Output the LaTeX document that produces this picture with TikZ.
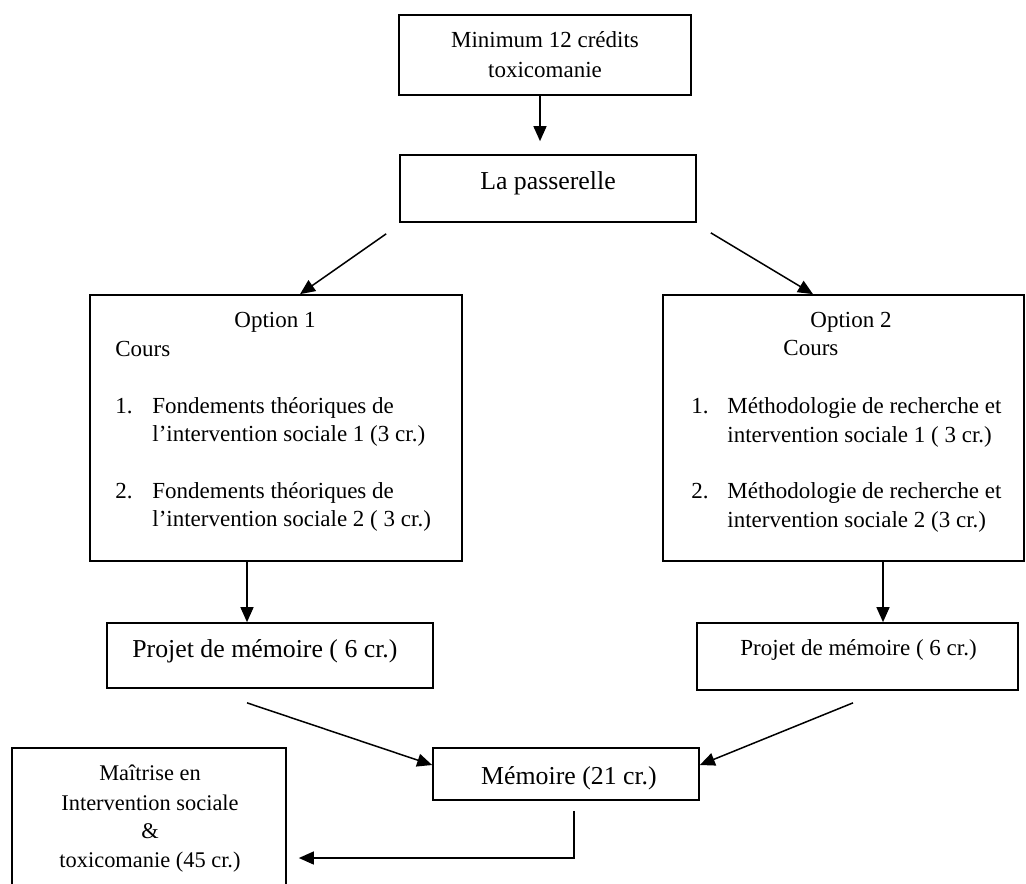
\documentclass[tikz,border=0pt]{standalone}
\usepackage{fontspec}
\setmainfont{Liberation Serif}
\usetikzlibrary{arrows.meta,calc}

\tikzset{
  box/.style={draw=black, line width=0.85pt, inner sep=0pt},
  txt/.style={inner sep=0pt, anchor=base, font=\fontsize{11.5}{13}\selectfont},
  txtl/.style={txt, anchor=base west},
  big/.style={font=\fontsize{12.9}{14}\selectfont},
  small/.style={font=\fontsize{11.2}{13}\selectfont},
  arr/.style={draw=black, line width=0.75pt, -{Triangle[length=7.5pt,width=6.5pt]}}
}

\begin{document}
\begin{tikzpicture}[x=0.5pt,y=-0.5pt]
  % page frame
  \clip (0,0) rectangle (1026,883);
  \fill[white] (0,0) rectangle (1026,883);

  % boxes
  \node[box, minimum width=146pt,   minimum height=40pt]   (top)   at (545,55)     {};
  \node[box, minimum width=148pt,   minimum height=33.5pt] (pass)  at (548,188.5)  {};
  \node[box, minimum width=186pt,   minimum height=133pt]  (opt1)  at (276,428)    {};
  \node[box, minimum width=180.5pt, minimum height=133pt]  (opt2)  at (843.5,428)  {};
  \node[box, minimum width=163pt,   minimum height=32.5pt] (projL) at (270,655.5)  {};
  \node[box, minimum width=160.5pt, minimum height=33.5pt] (projR) at (857.5,656.5){};
  \node[box, minimum width=133pt,   minimum height=26pt]   (mem)   at (566,774)    {};
  \node[box, minimum width=137pt,   minimum height=70pt]   (mait)  at (149,818)    {};

  % texts of the first two boxes
  \node[txt] (topA) at (545,48) {Minimum 12 crédits};
  \node[txt] (topB) at (545,77) {toxicomanie};
  \node[txt, big] (passT) at (548,189) {La passerelle};

  % option 1
  \node[txt]  (o1T)  at (275,327) {Option 1};
  \node[txtl] (o1C)  at (115,356) {Cours};
  \node[txtl] (o1n1) at (115,413) {1.};
  \node[txtl] (o1a)  at (152,413) {Fondements théoriques de};
  \node[txtl] (o1b)  at (152,441) {l’intervention sociale 1 (3 cr.)};
  \node[txtl] (o1n2) at (115,498) {2.};
  \node[txtl] (o1c)  at (152,498) {Fondements théoriques de};
  \node[txtl] (o1d)  at (152,526) {l’intervention sociale 2 ( 3 cr.)};

  % option 2
  \node[txtl] (o2T)  at (810,327) {Option 2};
  \node[txtl] (o2C)  at (783,355) {Cours};
  \node[txtl] (o2n1) at (691,413) {1.};
  \node[txtl] (o2a)  at (727,413) {Méthodologie de recherche et};
  \node[txtl] (o2b)  at (727,442) {intervention sociale 1 ( 3 cr.)};
  \node[txtl] (o2n2) at (691,498) {2.};
  \node[txtl] (o2c)  at (727,498) {Méthodologie de recherche et};
  \node[txtl] (o2d)  at (727,527) {intervention sociale 2 (3 cr.)};

  % thesis project boxes
  \node[txtl, big] (pLT) at (132,657) {Projet de mémoire ( 6 cr.)};
  \node[txtl]      (pRT) at (740,655) {Projet de mémoire ( 6 cr.)};

  % thesis
  \node[txt, big] (memT) at (569,784) {Mémoire (21 cr.)};

  % master's degree
  \node[txt, small] (mA) at (150,780) {Maîtrise en};
  \node[txt, small] (mB) at (150,810) {Intervention sociale};
  \node[txt, small] (mC) at (150,838) {\&};
  \node[txt, small] (mD) at (150,867) {toxicomanie (45 cr.)};

  % connectors
  \draw[arr] ($(top.south)+(-5,0)$) -- ($(pass.north)+(-8,-13)$);
  \draw[arr] ($(pass.south west)+(-13,11)$) -- ($(opt1.north)+(24,0)$);
  \draw[arr] ($(pass.south east)+(14,10)$) -- ($(opt2.north)+(-30.5,0)$);
  \draw[arr] ($(opt1.south)+(-29,0)$) -- ($(projL.north)+(-23,0)$);
  \draw[arr] ($(opt2.south)+(39.5,0)$) -- ($(projR.north)+(25.5,0)$);
  \draw[arr] ($(projL.south)+(-23,14)$) -- ($(mem.west)+(0,-9)$);
  \draw[arr] ($(projR.south)+(-4.5,12)$) -- ($(mem.east)+(0,-9)$);
  \draw[arr] ($(mem.south)+(8,10)$) |- ($(mait.east)+(12,40)$);
\end{tikzpicture}
\end{document}
